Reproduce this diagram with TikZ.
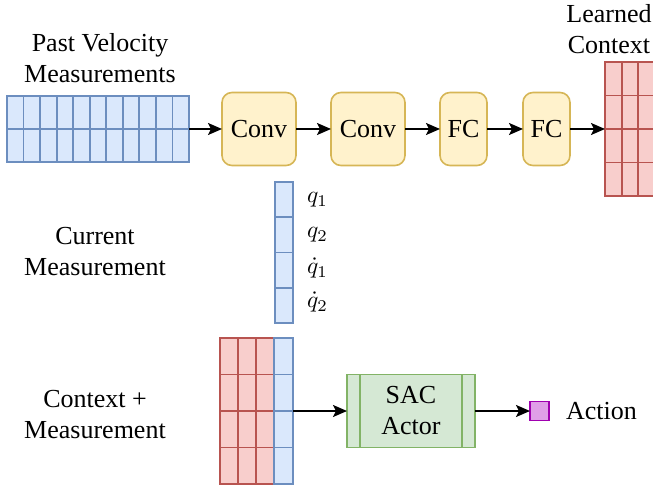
\documentclass[tikz,border=0pt]{standalone}
\usepackage{fix-cm}
\usepackage{graphicx}
\usepackage{fontspec}
\setmainfont{Liberation Serif}
\usetikzlibrary{arrows.meta}
\definecolor{bfill}{HTML}{DAE8FC}
\definecolor{bline}{HTML}{6C8EBF}
\definecolor{rfill}{HTML}{F8CECC}
\definecolor{rline}{HTML}{B85450}
\definecolor{yfill}{HTML}{FFF2CC}
\definecolor{yline}{HTML}{D6B656}
\definecolor{gfill}{HTML}{D5E8D4}
\definecolor{gline}{HTML}{82B366}
\definecolor{pfill}{HTML}{E09FE8}
\definecolor{pline}{HTML}{A000B0}
\newcommand{\qlabel}[1]{\resizebox{21pt}{!}{$#1$}}
\tikzset{
  every node/.style={outer sep=0pt},
  txt/.style={font=\fontsize{26}{31}\selectfont, align=center, inner sep=0pt},
  bluegrid/.style={draw=bline, fill=bfill, line width=1.9pt, inner sep=0pt, anchor=north west},
  redgrid/.style={draw=rline, fill=rfill, line width=1.9pt, inner sep=0pt, anchor=north west},
  bl/.style={draw=bline, line width=1.9pt},
  rl/.style={draw=rline, line width=1.9pt},
  layer/.style={draw=yline, fill=yfill, line width=1.6pt, rounded corners=10pt, inner sep=0pt,
    font=\fontsize{26}{31}\selectfont},
  arr/.style={-{Stealth[length=14pt,width=12pt,inset=3pt]}, line width=2pt, black},
}
\begin{document}
\begin{tikzpicture}[x=1pt,y=-1pt]
\useasboundingbox (0,0) rectangle (653,489);
\clip (0,0) rectangle (653,489);

% Past velocity grid
\node[bluegrid, minimum width=182pt, minimum height=66pt] (past) at (7,96) {};
\foreach \i in {1,...,10} \draw[bl] (7+\i*16.545,96) -- (7+\i*16.545,162);
\draw[bl] (7,129) -- (189,129);
\node[txt] (pastlbl) at (100,58) {Past Velocity\\Measurements};

% layers
\node[layer, minimum width=74pt, minimum height=73pt] (conv1) at (259,129) {Conv};
\node[layer, minimum width=74pt, minimum height=73pt] (conv2) at (368,129) {Conv};
\node[layer, minimum width=47pt, minimum height=73pt] (fc1) at (463.5,129) {FC};
\node[layer, minimum width=47pt, minimum height=73pt] (fc2) at (546.5,129) {FC};

% learned context grid
\node[redgrid, minimum width=50pt, minimum height=134pt] (ctx) at (605,62) {};
\foreach \i in {1,2} \draw[rl] (605+\i*16.6,62) -- (605+\i*16.6,196);
\foreach \j in {1,2,3} \draw[rl] (605,62+\j*33.5) -- (656,62+\j*33.5);
\node[txt] (ctxlbl) at (609,29) {Learned\\Context};

\draw[arr] (past.east) -- (conv1.west);
\draw[arr] (conv1.east) -- (conv2.west);
\draw[arr] (conv2.east) -- (fc1.west);
\draw[arr] (fc1.east) -- (fc2.west);
\draw[arr] (fc2.east) -- (ctx.west);

% current measurement
\node[bluegrid, minimum width=18pt, minimum height=141pt] (cur) at (275,182) {};
\foreach \j in {1,2,3} \draw[bl] (275,182+\j*35.25) -- (293,182+\j*35.25);
\node[inner sep=0pt, anchor=west] (q1) at (307,200) {\qlabel{q_1}};
\node[inner sep=0pt, anchor=west] (q2) at (307,235) {\qlabel{q_2}};
\node[inner sep=0pt, anchor=west] (q3) at (307,268) {\qlabel{\dot q_1}};
\node[inner sep=0pt, anchor=west] (q4) at (307,302) {\qlabel{\dot q_2}};
\node[txt] (curlbl) at (95,252) {Current\\Measurement};

% context + measurement
\node[redgrid, minimum width=54pt, minimum height=146pt] (cm) at (220,338) {};
\node[bluegrid, minimum width=19pt, minimum height=146pt] (cmb) at (274,338) {};
\foreach \i in {1,2} \draw[rl] (220+\i*18,338) -- (220+\i*18,484);
\foreach \j in {1,2,3} \draw[rl] (220,338+\j*36.5) -- (274,338+\j*36.5);
\foreach \j in {1,2,3} \draw[bl] (274,338+\j*36.5) -- (293,338+\j*36.5);
\draw[bl] (274,338) -- (274,484);
\node[txt] (cmlbl) at (95,415) {Context +\\Measurement};

% SAC actor
\node[draw=gline, fill=gfill, line width=1.9pt, minimum width=128pt, minimum height=73pt,
  inner sep=0pt, font=\fontsize{26}{31}\selectfont, align=center] (sac) at (411,411) {SAC\\Actor};
\draw[draw=gline, line width=1.9pt] ([xshift=13pt]sac.north west) -- ([xshift=13pt]sac.south west);
\draw[draw=gline, line width=1.9pt] ([xshift=-13pt]sac.north east) -- ([xshift=-13pt]sac.south east);

\node[draw=pline, fill=pfill, line width=1.9pt, minimum size=19pt, inner sep=0pt] (act) at (539.5,411) {};
\node[txt, anchor=west] (actlbl) at (566,411) {Action};

\draw[arr] (cmb.east) -- (sac.west);
\draw[arr] (sac.east) -- (act.west);
\end{tikzpicture}
\end{document}
